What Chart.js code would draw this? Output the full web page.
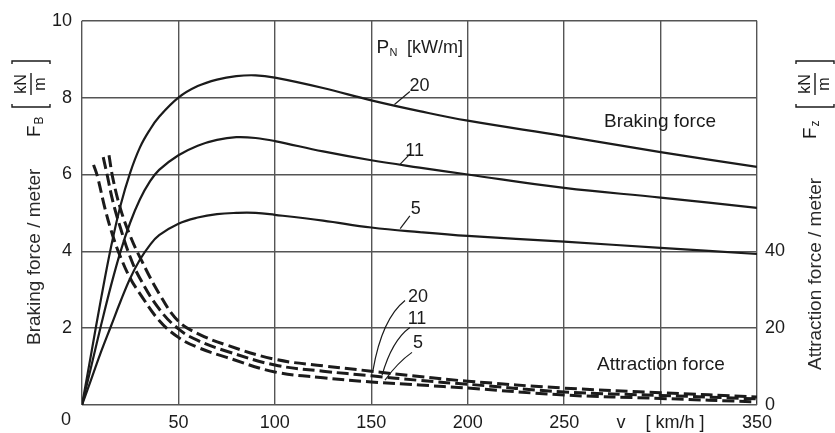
<!DOCTYPE html>
<html>
<head>
<meta charset="utf-8">
<script src="https://cdn.jsdelivr.net/npm/chart.js@4/dist/chart.umd.min.js"></script>
<style>
  html, body { margin: 0; padding: 0; background: #fff; }
  #wrap { width: 835px; height: 433px; }
</style>
</head>
<body>
<div id="wrap"><canvas id="chart" width="835" height="433"></canvas></div>
<script>
// ── data ──
// braking force F_B [kN/m] (left axis), one speed list for all three curves
const speedBraking = [0, 5, 10, 15, 20, 25, 30, 35, 40, 50, 60, 70, 80, 90, 100, 125, 150, 175, 200, 250, 300, 350];
const braking20 = [0, 1.4, 2.8, 4.1, 5.2, 6.05, 6.7, 7.15, 7.5, 8.0, 8.3, 8.47, 8.56, 8.58, 8.52, 8.25, 7.93, 7.65, 7.4, 7.0, 6.58, 6.2];
const braking11 = [0, 1.05, 2.1, 3.1, 4.0, 4.75, 5.35, 5.8, 6.12, 6.5, 6.75, 6.9, 6.97, 6.95, 6.87, 6.6, 6.37, 6.18, 6.0, 5.65, 5.4, 5.13];
const braking5  = [0, 0.7, 1.4, 2.05, 2.7, 3.3, 3.78, 4.15, 4.42, 4.72, 4.88, 4.97, 5.0, 5.0, 4.95, 4.8, 4.62, 4.5, 4.4, 4.25, 4.09, 3.93];

// attraction force F_z [kN/m] (right axis), each curve starts at its own speed
const speedAttr20 = [14, 16, 20, 25, 30, 40, 50, 60, 75, 100, 125, 150, 175, 200, 250, 300, 350];
const attraction20 = [65, 59, 51, 44, 38.5, 29, 21.8, 18.6, 15.6, 11.9, 10.2, 8.8, 7.4, 6.2, 4.4, 3.2, 2.1];
const speedAttr11 = [11, 13, 16, 20, 25, 30, 40, 50, 60, 75, 100, 125, 150, 175, 200, 250, 300, 350];
const attraction11 = [64.5, 60, 53, 46, 38.5, 33, 25, 19.8, 16.8, 14.0, 10.4, 8.8, 7.6, 6.4, 5.4, 3.4, 2.5, 1.6];
const speedAttr5 = [6, 8, 12, 16, 20, 25, 30, 40, 50, 60, 75, 100, 125, 150, 175, 200, 250, 300, 350];
const attraction5 = [62.5, 59.5, 51, 44, 38.5, 33, 29, 22, 17.6, 15, 12.4, 8.6, 7.1, 6.0, 5.2, 4.4, 2.6, 1.7, 0.8];

// axes
const speedTicks = [0, 50, 100, 150, 200, 250, 300, 350];
const brakingTicks = [0, 2, 4, 6, 8, 10];
const attractionTicks = [0, 20, 40];

const INK  = '#1b1b1b';
const GRID = '#555';
const FONT = '"Liberation Sans", Arial, sans-serif';

const toPoints = (xs, ys) => xs.map((v, i) => ({ x: v, y: ys[i] }));

function solid(data) {
    return {
        data, yAxisID: 'y',
        borderColor: INK, borderWidth: 2.2,
        pointRadius: 0, tension: 0.4, fill: false
    };
}
function dashed(data) {
    return {
        data, yAxisID: 'y2',
        borderColor: INK, borderWidth: 3, borderDash: [12, 5], borderCapStyle: 'butt',
        pointRadius: 0, tension: 0.4, fill: false
    };
}

// ── labels, leader lines, axis titles ──
const annotate = {
    id: 'annotate',
    afterDraw(chart) {
        const { ctx, chartArea: a } = chart;
        const X = chart.scales.x, Y = chart.scales.y;
        const px = v => X.getPixelForValue(v);
        const py = f => Y.getPixelForValue(f);

        ctx.save();
        ctx.fillStyle = INK;
        ctx.strokeStyle = INK;
        ctx.textBaseline = 'middle';
        ctx.textAlign = 'center';

        const text = (s, v, f, size) => {
            ctx.font = size + 'px ' + FONT;
            ctx.fillText(s, px(v), py(f));
        };

        // P_N [kW/m]
        text('P', 156, 9.3, 19);
        text('N', 161.5, 9.16, 11);
        ctx.textAlign = 'left';
        text('[kW/m]', 168.5, 9.3, 18);
        ctx.textAlign = 'center';

        // solid curve labels with short straight leaders
        ctx.lineWidth = 1.2;
        [
            ['20', [175, 8.29], [162, 7.82], [170, 8.16]],
            ['11', [172.5, 6.6], [165, 6.27], [170, 6.53]],
            ['5',  [173, 5.1],  [165, 4.59], [170, 4.92]]
        ].forEach(([s, at, p0, p1]) => {
            ctx.beginPath();
            ctx.moveTo(px(p0[0]), py(p0[1]));
            ctx.lineTo(px(p1[0]), py(p1[1]));
            ctx.stroke();
            text(s, at[0], at[1], 18);
        });

        // dashed curve labels with curved leaders
        [
            ['20', [174.2, 2.8],  [150.9, 0.91], [155.6, 2.25], [167.5, 2.72]],
            ['11', [173.7, 2.25], [155.6, 0.78], [160.7, 1.68], [170, 2.02]],
            ['5',  [174.2, 1.61], [157.1, 0.65], [163.8, 1.11], [171.1, 1.37]]
        ].forEach(([s, at, p0, c, p1]) => {
            ctx.beginPath();
            ctx.moveTo(px(p0[0]), py(p0[1]));
            ctx.quadraticCurveTo(px(c[0]), py(c[1]), px(p1[0]), py(p1[1]));
            ctx.stroke();
            text(s, at[0], at[1], 18);
        });

        text('Braking force', 299.7, 7.36, 19);
        text('Attraction force', 300.2, 1.06, 19);

        // corner zero
        ctx.font = '18px ' + FONT;
        ctx.fillText('0', a.left - 16, a.bottom + 15);

        // rotated axis titles
        const rotated = (cx, cy, fn) => {
            ctx.save();
            ctx.translate(cx, cy);
            ctx.rotate(-Math.PI / 2);
            fn();
            ctx.restore();
        };
        const title = (cx, bottom, s) => rotated(cx, bottom, () => {
            ctx.textAlign = 'left';
            ctx.font = '19px ' + FONT;
            ctx.fillStyle = '#2a2a2a';
            ctx.fillText(s, 0, 0);
        });
        const symbol = (cx, bottom, main, sub) => rotated(cx, bottom, () => {
            ctx.textAlign = 'left';
            ctx.font = '19px ' + FONT;
            ctx.fillText(main, 0, 0);
            const w = ctx.measureText(main).width;
            ctx.font = '12px ' + FONT;
            ctx.fillText(sub, w + 1, 5);
        });
        const unit = (cx, cy) => rotated(cx, cy, () => {
            ctx.textAlign = 'center';
            ctx.font = '16px ' + FONT;
            ctx.fillText('kN', 0, -9);
            ctx.fillText('m', 0, 10);
            ctx.lineWidth = 1.4;
            ctx.beginPath();
            ctx.moveTo(-11, 0); ctx.lineTo(11, 0);
            ctx.moveTo(-20, -19); ctx.lineTo(-23, -19); ctx.lineTo(-23, 19); ctx.lineTo(-20, 19);
            ctx.moveTo(20, -19); ctx.lineTo(23, -19); ctx.lineTo(23, 19); ctx.lineTo(20, 19);
            ctx.stroke();
        });

        title(a.left - 47, 345, 'Braking force / meter');
        symbol(a.left - 47, 137, 'F', 'B');
        unit(a.left - 51, 84);

        title(a.right + 59, 370, 'Attraction force / meter');
        symbol(a.right + 54, 139, 'F', 'z');
        unit(a.right + 58, 84);

        ctx.restore();
    }
};

Chart.defaults.font.family = FONT;
Chart.defaults.font.size = 18;
Chart.defaults.color = INK;

new Chart(document.getElementById('chart').getContext('2d'), {
    type: 'line',
    data: {
        datasets: [
            solid(toPoints(speedBraking, braking20)),
            solid(toPoints(speedBraking, braking11)),
            solid(toPoints(speedBraking, braking5)),
            dashed(toPoints(speedAttr20, attraction20)),
            dashed(toPoints(speedAttr11, attraction11)),
            dashed(toPoints(speedAttr5, attraction5))
        ]
    },
    options: {
        responsive: false,
        animation: false,
        devicePixelRatio: 1,
        layout: { padding: { top: 19, left: 0, right: 0, bottom: 0 } },
        plugins: { legend: { display: false }, tooltip: { enabled: false } },
        scales: {
            x: {
                type: 'linear', min: 0, max: 350,
                afterBuildTicks: s => { s.ticks = speedTicks.map(v => ({ value: v })); },
                afterFit: s => { s.height = 28; },
                grid: { color: GRID, lineWidth: 1.4, drawTicks: false },
                border: { display: false },
                ticks: {
                    padding: 7, autoSkip: false, maxRotation: 0,
                    callback: v => v === 0 ? '' : (v === 300 ? 'v    [ km/h ]' : v)
                }
            },
            y: {
                type: 'linear', position: 'left', min: 0, max: 10,
                afterBuildTicks: s => { s.ticks = brakingTicks.map(v => ({ value: v })); },
                afterFit: s => { s.width = 82; },
                grid: { color: GRID, lineWidth: 1.4, drawTicks: false },
                border: { display: false },
                ticks: { padding: 10, callback: v => v === 0 ? '' : v }
            },
            y2: {
                type: 'linear', position: 'right', min: 0, max: 100,
                afterBuildTicks: s => { s.ticks = attractionTicks.map(v => ({ value: v })); },
                afterFit: s => { s.width = 78; },
                grid: { display: false, drawTicks: false },
                border: { display: false },
                ticks: { padding: 8 }
            }
        }
    },
    plugins: [annotate]
});
</script>
</body>
</html>
